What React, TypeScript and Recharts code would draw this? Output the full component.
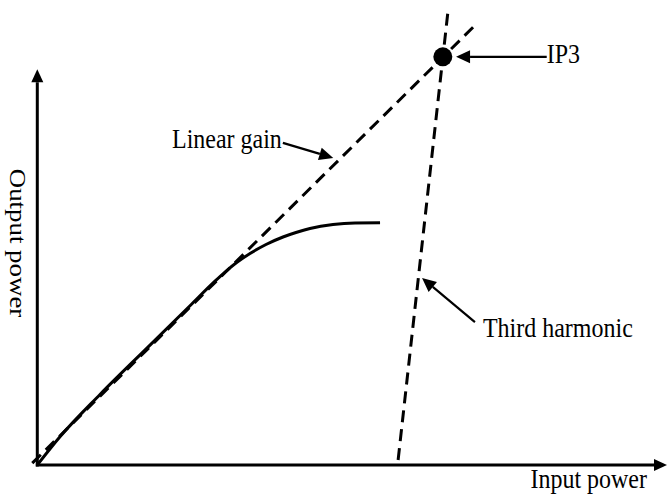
import { ComposedChart, Line, XAxis, YAxis, ReferenceLine, ReferenceDot } from 'recharts';

// curves, in arbitrary power units (input 0..100, output 0..100)
const compressionX = [0, 3.6, 9.96, 17.9, 24.25, 28.22, 29.81, 31.71, 33.78, 36.32, 39.02, 41.08, 43.3, 46.96, 50.46, 54.43];
const compressionY = [0, 6.2, 15.5, 26.35, 35.0, 40.4, 42.4, 44.55, 46.48, 48.46, 50.11, 51.1, 51.98, 52.86, 53.19, 53.23];

const linearGainX = [-0.8, 69.2];
const linearGainY = [0.4, 96.2];

const thirdHarmonicX = [57.3, 65.2];
const thirdHarmonicY = [1.1, 99.5];

const ip3Point = { x: 64.4, y: 89.7 };

// annotation arrows: label, tail point, head point
const annotationLabels = ['IP3', 'Linear gain', 'Third harmonic'];
const annotationTail = [
  [80.9, 89.7],
  [39.0, 70.8],
  [69.5, 31.4],
];
const annotationHead = [
  [66.5, 89.7],
  [47.0, 67.5],
  [61.1, 41.1],
];

const xAxisLabel = 'Input power';
const yAxisLabel = 'Output power';
const xAxisEnd = 100;
const yAxisEnd = 87;

const toPoints = (xs: number[], ys: number[]) => xs.map((x, i) => ({ x, y: ys[i] }));

const compression = toPoints(compressionX, compressionY);
const linearGain = toPoints(linearGainX, linearGainY);
const thirdHarmonic = toPoints(thirdHarmonicX, thirdHarmonicY);

const FONT = "'Liberation Serif', 'Times New Roman', serif";

// label placement relative to the arrow tail, in px
const labelOffsets = [
  { dx: 0, dy: 6, anchor: 'start' },
  { dx: -1, dy: 5, anchor: 'end' },
  { dx: 8, dy: 15, anchor: 'start' },
];

function arrowPath(x1: number, y1: number, x2: number, y2: number, len: number, half: number) {
  const a = Math.atan2(y2 - y1, x2 - x1);
  const bx = x2 - len * Math.cos(a);
  const by = y2 - len * Math.sin(a);
  const px = -Math.sin(a) * half;
  const py = Math.cos(a) * half;
  return {
    bx,
    by,
    head: `${x2},${y2} ${bx + px},${by + py} ${bx - px},${by - py}`,
  };
}

function Label({ x, y, text, anchor, rotate }: { x: number; y: number; text: string; anchor: string; rotate?: boolean }) {
  const tf = rotate
    ? `translate(${x},${y}) rotate(90) scale(1.12,1)`
    : `translate(${x},${y}) scale(1,1.12)`;
  return (
    <text transform={tf} textAnchor={anchor as any} fontFamily={FONT} fontSize={24} fill="#000">
      {text}
    </text>
  );
}

const makeAnnotation = (i: number) => (p: any) => {
  const { x1, y1, x2, y2 } = p;
  const { bx, by, head } = arrowPath(x1, y1, x2, y2, 14, 6.5);
  const o = labelOffsets[i];
  return (
    <g>
      <line x1={x1} y1={y1} x2={bx} y2={by} stroke="#000" strokeWidth={2.2} />
      <polygon points={head} fill="#000" />
      <Label x={x1 + o.dx} y={y1 + o.dy} text={annotationLabels[i]} anchor={o.anchor} />
    </g>
  );
};

const xAxisShape = (p: any) => {
  const { x1, y1, x2, y2 } = p;
  const { bx, by, head } = arrowPath(x1, y1, x2, y2, 13, 6);
  return (
    <g>
      <line x1={x1 - 1.5} y1={y1} x2={bx} y2={by} stroke="#000" strokeWidth={3} />
      <polygon points={head} fill="#000" />
      <Label x={x2 - 20} y={y2 + 23} text={xAxisLabel} anchor="end" />
    </g>
  );
};

const yAxisShape = (p: any) => {
  const { x1, y1, x2, y2 } = p;
  const { bx, by, head } = arrowPath(x1, y1, x2, y2, 13, 6);
  return (
    <g>
      <line x1={x1} y1={y1 + 1.5} x2={bx} y2={by} stroke="#000" strokeWidth={3} />
      <polygon points={head} fill="#000" />
      <Label x={10} y={243} text={yAxisLabel} anchor="middle" rotate />
    </g>
  );
};

export default function App() {
  return (
    <div style={{ position: 'absolute', left: 0, top: 0, background: '#fff' }}>
      <ComposedChart width={667} height={499} margin={{ top: 10, right: 0, bottom: 34, left: 31 }}>
        <XAxis type="number" dataKey="x" domain={[-1, 100]} allowDataOverflow hide />
        <YAxis type="number" dataKey="y" domain={[0, 100]} allowDataOverflow hide />
        <ReferenceLine
          segment={[{ x: 0, y: 0 }, { x: xAxisEnd, y: 0 }]}
          ifOverflow="visible"
          shape={xAxisShape}
        />
        <ReferenceLine
          segment={[{ x: 0, y: 0 }, { x: 0, y: yAxisEnd }]}
          ifOverflow="visible"
          shape={yAxisShape}
        />
        <Line
          data={linearGain}
          dataKey="y"
          type="linear"
          stroke="#000"
          strokeWidth={3}
          strokeDasharray="12 7"
          dot={false}
          activeDot={false}
          isAnimationActive={false}
        />
        <Line
          data={thirdHarmonic}
          dataKey="y"
          type="linear"
          stroke="#000"
          strokeWidth={3}
          strokeDasharray="12 7"
          dot={false}
          activeDot={false}
          isAnimationActive={false}
        />
        <Line
          data={compression}
          dataKey="y"
          type="monotone"
          stroke="#000"
          strokeWidth={3}
          dot={false}
          activeDot={false}
          isAnimationActive={false}
        />
        <ReferenceDot x={ip3Point.x} y={ip3Point.y} r={9.5} fill="#000" stroke="none" ifOverflow="visible" />
        {annotationLabels.map((_, i) => (
          <ReferenceLine
            key={i}
            segment={[
              { x: annotationTail[i][0], y: annotationTail[i][1] },
              { x: annotationHead[i][0], y: annotationHead[i][1] },
            ]}
            ifOverflow="visible"
            shape={makeAnnotation(i)}
          />
        ))}
      </ComposedChart>
    </div>
  );
}
